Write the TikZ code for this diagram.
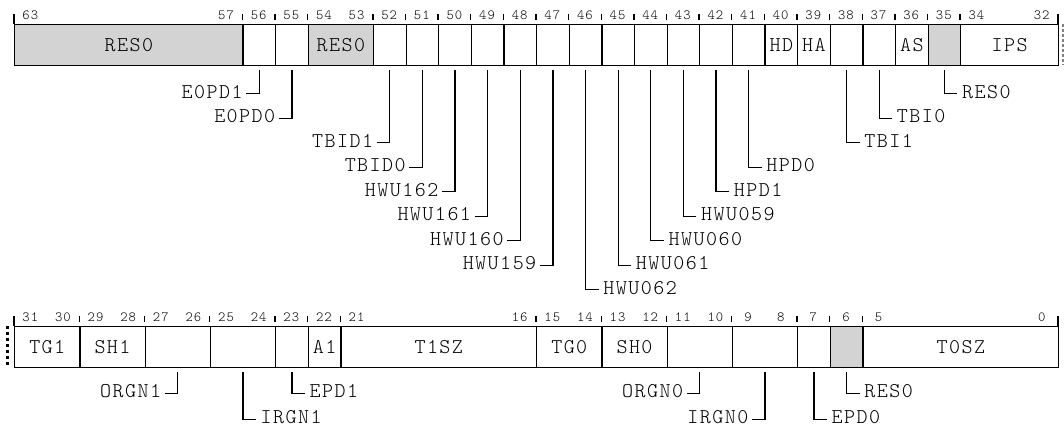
\documentclass[tikz,border=0pt]{standalone}
\usepackage{fontspec}
\usetikzlibrary{calc}
\newfontfamily\regfont{Latin Modern Mono Light}[LetterSpace=7]
\definecolor{regGray}{HTML}{D3D3D3}
\tikzset{
  fieldbox/.style={draw, line width=1.3pt, minimum height=41pt, inner sep=0pt,
    text height=12pt, text depth=0pt, font=\regfont\fontsize{21}{21}\selectfont, anchor=north west},
  grayf/.style={fill=regGray},
  bitnum/.style={font=\regfont\fontsize{14}{14}\selectfont, anchor=base, inner sep=0pt},
  labtext/.style={font=\regfont\fontsize{21}{21}\selectfont, inner ysep=0pt, text height=9pt, text depth=0pt},
  labL/.style={labtext, anchor=east, inner xsep=3.5pt},
  labR/.style={labtext, anchor=west, inner xsep=4.5pt},
  lead/.style={line width=1.3pt},
  tickline/.style={line width=1.3pt}
}
\newcommand\regfield[5]{%
  \node[fieldbox,#5,minimum width={(#2-#3+1)*32.625pt}] (#1) at ({14+(\regbase-#2)*32.625}, \regtop) {#4};
  \draw[tickline] ({14+(\regbase-#2)*32.625}, \regtop-10) -- ({14+(\regbase-#2)*32.625}, \regtop-4.5);
  \node[bitnum] (#1hi) at ({14+(\regbase-#2+0.5)*32.625}, \regtop-4.5) {#2};
  \ifnum#2>#3\relax \node[bitnum] (#1lo) at ({14+(\regbase-#3+0.5)*32.625}, \regtop-4.5) {#3};\fi
}
\newcommand\leadL[4]{%
  \path (#1.south) ++(-13,#3) node[labL] (#2) {#4};
  \draw[lead] ([yshift=-4pt]#1.south) |- (#2.east);
}
\newcommand\leadR[4]{%
  \path (#1.south) ++(13,#3) node[labR] (#2) {#4};
  \draw[lead] ([yshift=-4pt]#1.south) |- (#2.west);
}
\begin{document}
\begin{tikzpicture}[x=1pt,y=-1pt]
\useasboundingbox (0,0) rectangle (1064,426);
% ---------- top register ----------
\def\regtop{24}\def\regbase{63}
\regfield{f63}{63}{57}{RES0}{grayf}
\regfield{f56}{56}{56}{}{}
\regfield{f55}{55}{55}{}{}
\regfield{f54}{54}{53}{RES0}{grayf}
\regfield{f52}{52}{52}{}{}
\regfield{f51}{51}{51}{}{}
\regfield{f50}{50}{50}{}{}
\regfield{f49}{49}{49}{}{}
\regfield{f48}{48}{48}{}{}
\regfield{f47}{47}{47}{}{}
\regfield{f46}{46}{46}{}{}
\regfield{f45}{45}{45}{}{}
\regfield{f44}{44}{44}{}{}
\regfield{f43}{43}{43}{}{}
\regfield{f42}{42}{42}{}{}
\regfield{f41}{41}{41}{}{}
\regfield{f40}{40}{40}{HD}{}
\regfield{f39}{39}{39}{HA}{}
\regfield{f38}{38}{38}{}{}
\regfield{f37}{37}{37}{}{}
\regfield{f36}{36}{36}{AS}{}
\regfield{f35}{35}{35}{}{grayf}
\regfield{f34}{34}{32}{IPS}{}
\draw[tickline] (14,14) -- (14,24);
\draw[tickline] (1058,14) -- (1058,24);
\draw[line width=1.2pt, gray, dash pattern=on 3pt off 2pt] (1063,24) -- (1063,65);
% ---------- bottom register ----------
\def\regtop{326}\def\regbase{31}
\regfield{f31}{31}{30}{TG1}{}
\regfield{f29}{29}{28}{SH1}{}
\regfield{f27}{27}{26}{}{}
\regfield{f25}{25}{24}{}{}
\regfield{f23}{23}{23}{}{}
\regfield{f22}{22}{22}{A1}{}
\regfield{f21}{21}{16}{T1SZ}{}
\regfield{f15}{15}{14}{TG0}{}
\regfield{f13}{13}{12}{SH0}{}
\regfield{f11}{11}{10}{}{}
\regfield{f9}{9}{8}{}{}
\regfield{f7}{7}{7}{}{}
\regfield{f6}{6}{6}{}{grayf}
\regfield{f5}{5}{0}{T0SZ}{}
\draw[tickline] (14,316) -- (14,326);
\draw[tickline] (1058,316) -- (1058,326);
\draw[line width=2.5pt, dash pattern=on 3pt off 3pt] (7.3,326) -- (7.3,366);
% ---------- leaders, top ----------
\leadL{f56}{lE0PD1}{27.5}{E0PD1}
\leadL{f55}{lE0PD0}{52}{E0PD0}
\leadL{f52}{lTBID1}{76.5}{TBID1}
\leadL{f51}{lTBID0}{101}{TBID0}
\leadL{f50}{lHWU162}{125.5}{HWU162}
\leadL{f49}{lHWU161}{150}{HWU161}
\leadL{f48}{lHWU160}{174.5}{HWU160}
\leadL{f47}{lHWU159}{199}{HWU159}
\leadR{f46}{lHWU062}{223.5}{HWU062}
\leadR{f45}{lHWU061}{199}{HWU061}
\leadR{f44}{lHWU060}{174.5}{HWU060}
\leadR{f43}{lHWU059}{150}{HWU059}
\leadR{f42}{lHPD1}{125.5}{HPD1}
\leadR{f41}{lHPD0}{101}{HPD0}
\leadR{f38}{lTBI1}{76.5}{TBI1}
\leadR{f37}{lTBI0}{52}{TBI0}
\leadR{f35}{lRESa}{27.5}{RES0}
% ---------- leaders, bottom ----------
\leadL{f27}{lORGN1}{25}{ORGN1}
\leadR{f25}{lIRGN1}{51}{IRGN1}
\leadR{f23}{lEPD1}{25}{EPD1}
\leadL{f11}{lORGN0}{25}{ORGN0}
\leadL{f9}{lIRGN0}{51}{IRGN0}
\leadR{f7}{lEPD0}{51}{EPD0}
\leadR{f6}{lRESb}{25}{RES0}
\end{tikzpicture}
\end{document}
